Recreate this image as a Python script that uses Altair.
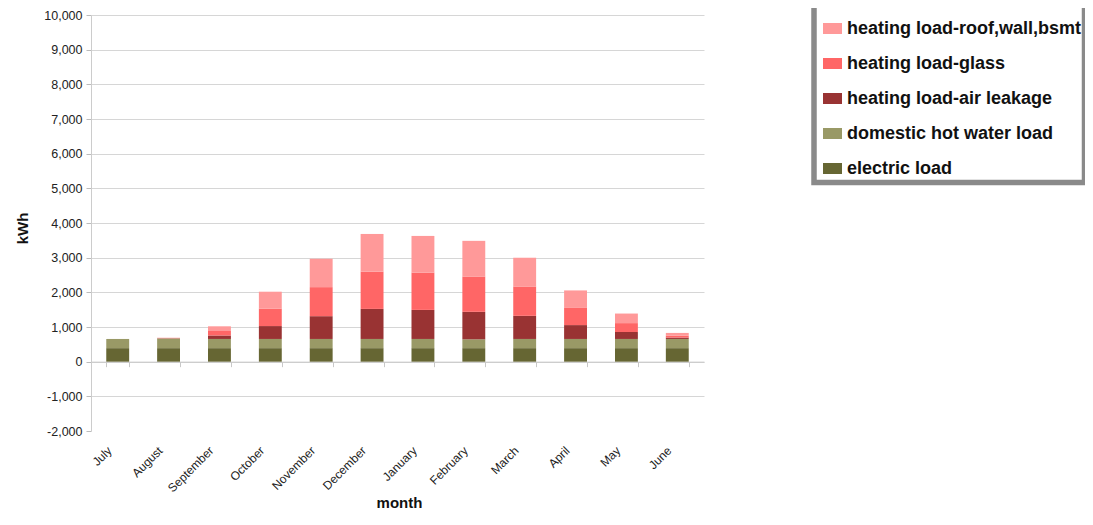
import altair as alt
import pandas as pd

months = ["July", "August", "September", "October", "November", "December",
          "January", "February", "March", "April", "May", "June"]

electric = [390, 390, 390, 390, 390, 390, 390, 390, 390, 390, 390, 390]
dhw = [265, 280, 265, 265, 265, 265, 265, 255, 265, 265, 265, 265]
air = [0, 5, 100, 372, 657, 867, 838, 793, 667, 400, 200, 40]
glass = [0, 5, 130, 505, 838, 1076, 1076, 1019, 847, 495, 257, 57]
roof = [0, 10, 135, 486, 819, 1086, 1058, 1028, 829, 505, 276, 77]

series_names = ["heating load-roof,wall,bsmt", "heating load-glass",
                "heating load-air leakage", "domestic hot water load", "electric load"]
series_colors = ["#FF9999", "#FF6666", "#993333", "#999966", "#666633"]

stack_series = [("electric load", electric), ("domestic hot water load", dhw),
                ("heating load-air leakage", air), ("heating load-glass", glass),
                ("heating load-roof,wall,bsmt", roof)]

rows = []
for i, m in enumerate(months):
    for rank, (name, vals) in enumerate(stack_series):
        rows.append({"month": m, "series": name, "kWh": vals[i], "stack_order": rank})
df = pd.DataFrame(rows)

FONT = "Liberation Sans"
PLOT_W = 613
PLOT_H = 416
ZERO_FROM_BOTTOM = PLOT_H * 2000 / 12000  # pixels between -2,000 and 0

bars = alt.Chart(df).mark_bar().encode(
    x=alt.X("month:N", sort=months,
            scale=alt.Scale(paddingInner=0.55, paddingOuter=0.3),
            axis=alt.Axis(title="month", labelAngle=-45, labelAlign="right",
                          labelBaseline="top", labelPadding=78, labelOffset=-12,
                          offset=-ZERO_FROM_BOTTOM,
                          domainColor="#c8c8c8", tickColor="#c8c8c8", tickSize=5,
                          tickBand="extent", grid=False,
                          labelFontSize=12, labelColor="#222", labelFont=FONT,
                          titleX=308, titleY=146, titleBaseline="alphabetic",
                          titleFontSize=15, titleFontWeight="bold", titleColor="#111",
                          titleFont=FONT)),
    y=alt.Y("kWh:Q", stack="zero",
            scale=alt.Scale(domain=[-2000, 10000], nice=False),
            axis=alt.Axis(title="kWh", values=list(range(-2000, 10001, 1000)),
                          labelExpr="replace(format(datum.value, ',.0f'), '\u2212', '-')",
                          labelFontSize=12.5, labelColor="#222",
                          labelFont=FONT, labelPadding=4, tickSize=5,
                          tickColor="#bbbbbb", domainColor="#cccccc",
                          gridColor="#d6d6d6",
                          gridOpacity={"condition": {"test": "datum.value === -2000", "value": 0}, "value": 1},
                          titleX=-69, titleY=213, titleAngle=-90,
                          titleBaseline="middle", titleFontSize=15,
                          titleFontWeight="bold", titleColor="#111", titleFont=FONT)),
    color=alt.Color("series:N",
                    scale=alt.Scale(domain=series_names, range=series_colors),
                    legend=alt.Legend(title=None, orient="none", legendX=732, legendY=4,
                                      symbolType="M-1,-0.58H1V0.58H-1Z", symbolSize=361,
                                      symbolStrokeWidth=0, symbolOpacity=1,
                                      labelFontSize=18, labelFontWeight="bold",
                                      labelFont=FONT, labelColor="#111",
                                      rowPadding=16, labelOffset=5, padding=0,
                                      labelLimit=400)),
    order=alt.Order("stack_order:Q", sort="ascending"),
)

frame = alt.Chart(pd.DataFrame({"k": [0]})).mark_rect(
    filled=False, stroke="#8a8a8a", strokeWidth=5.5
).encode(
    x=alt.value(723), x2=alt.value(993.5), y=alt.value(-60), y2=alt.value(167.5)
)

chart = alt.layer(bars, frame).properties(
    width=PLOT_W, height=PLOT_H,
    autosize=alt.AutoSizeParams(type="none"),
    padding={"left": 83, "top": 7, "right": 381, "bottom": 82},
    background="white",
).configure_view(stroke=None)

chart.save("out.html", embed_options={"renderer": "svg", "actions": False})
